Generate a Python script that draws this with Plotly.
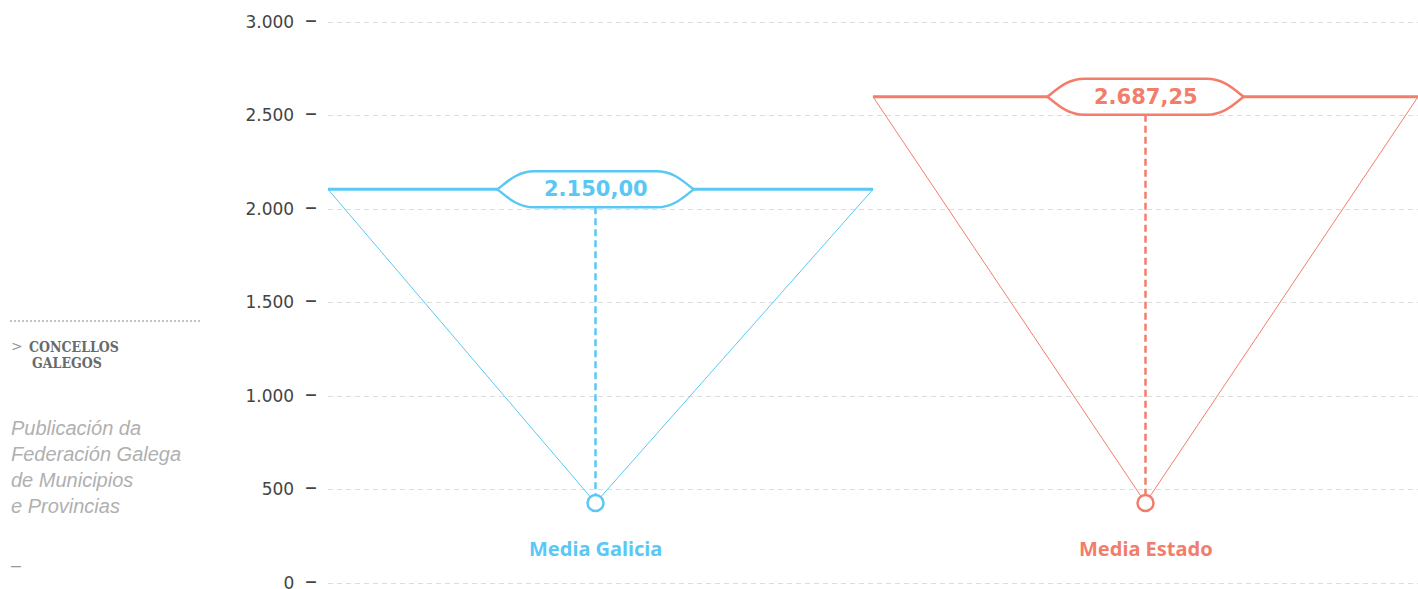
import plotly.graph_objects as go

# ---------------- data ----------------
categories = ["Media Galicia", "Media Estado"]
values = [2150.00, 2687.25]
value_labels = ["2.150,00", "2.687,25"]
bar_levels = [2105, 2600]      # level of the drawn top bar
apex_levels = [428, 428]       # level of the apex circle
colors = ["#5ac8f5", "#f37d6b"]
ytick_vals = [0, 500, 1000, 1500, 2000, 2500, 3000]
ytick_labels = ["0", "500", "1.000", "1.500", "2.000", "2.500", "3.000"]
sidebar_title = ["CONCELLOS", "GALEGOS"]
sidebar_text = ["Publicación da", "Federación Galega", "de Municipios", "e Provincias"]

# ---------------- layout constants ----------------
W, H = 1418, 589
PLOT_L, PLOT_T, PLOT_B = 328, 22, 583      # pixel rows of 3000 and 0
PAD = 3                                    # extra pixels of axis range at each end
X_RANGE = [-0.5, 1.5]
CENTER_SHIFT_PX = [-5, 0]                  # horizontal nudge of the stem/label in pixels
PX_X = (X_RANGE[1] - X_RANGE[0]) / (W - PLOT_L)
PX_Y = 3000 / (PLOT_B - PLOT_T)
Y_RANGE = [0 - PAD * PX_Y, 3000 + PAD * PX_Y]


def px(x):
    return x / W


def py(y):
    return 1 - y / H


def box_path(cx, cy):
    hw, tw, k1, k2 = 98 * PX_X, 61 * PX_X, 88 * PX_X, 78 * PX_X
    hh, h1 = 18 * PX_Y, 8 * PX_Y
    pts = [
        f"M {cx-hw},{cy}",
        f"C {cx-k1},{cy+h1} {cx-k2},{cy+hh} {cx-tw},{cy+hh}",
        f"L {cx+tw},{cy+hh}",
        f"C {cx+k2},{cy+hh} {cx+k1},{cy+h1} {cx+hw},{cy}",
        f"C {cx+k1},{cy-h1} {cx+k2},{cy-hh} {cx+tw},{cy-hh}",
        f"L {cx-tw},{cy-hh}",
        f"C {cx-k2},{cy-hh} {cx-k1},{cy-h1} {cx-hw},{cy}",
        "Z",
    ]
    return " ".join(pts)


fig = go.Figure()
shapes = []
annotations = []

for i, cat in enumerate(categories):
    c = colors[i]
    lvl = bar_levels[i]
    apex = apex_levels[i]
    xc = i + CENTER_SHIFT_PX[i] * PX_X
    # triangle sides
    fig.add_trace(go.Scatter(x=[i - 0.5, xc, i + 0.5], y=[lvl, apex, lvl], mode="lines",
                             line=dict(color=c, width=1), hoverinfo="skip", cliponaxis=False))
    # top bar
    fig.add_trace(go.Scatter(x=[i - 0.5, i + 0.5], y=[lvl, lvl], mode="lines",
                             line=dict(color=c, width=3), hoverinfo="skip", cliponaxis=False))
    # dashed stem
    fig.add_trace(go.Scatter(x=[xc, xc], y=[lvl - 18 * PX_Y, apex + 8 * PX_Y], mode="lines",
                             line=dict(color=c, width=2.5, dash="7px,4px"), hoverinfo="skip"))
    # apex circle
    fig.add_trace(go.Scatter(x=[xc], y=[apex], mode="markers",
                             marker=dict(size=16, color="white", line=dict(color=c, width=2.5)),
                             hoverinfo="skip", cliponaxis=False))
    # value box
    shapes.append(dict(type="path", path=box_path(xc, lvl), xref="x", yref="y",
                       line=dict(color=c, width=2.5), fillcolor="white", layer="above"))
    annotations.append(dict(x=xc, y=lvl, xref="x", yref="y", text=value_labels[i],
                            showarrow=False, font=dict(family="DejaVu Sans", size=21, color=c, weight="bold"),
                            xanchor="center", yanchor="middle"))
    # category label
    annotations.append(dict(x=xc, y=(PLOT_B - 548) * PX_Y, xref="x", yref="y", text=cat,
                            showarrow=False, font=dict(family="Noto Sans", size=20, color=c, weight="bold"),
                            xanchor="center", yanchor="middle"))

# sidebar
shapes.append(dict(type="line", xref="paper", yref="paper", x0=px(10), x1=px(201), y0=py(321), y1=py(321),
                   line=dict(color="#888888", width=1, dash="2px,2px")))
annotations.append(dict(x=px(9), y=py(346), xref="paper", yref="paper", text=">", showarrow=False,
                        xanchor="left", yanchor="middle", font=dict(family="DejaVu Sans", size=14, color="#999999")))
annotations.append(dict(x=px(27), y=py(347), xref="paper", yref="paper", text=sidebar_title[0], showarrow=False,
                        xanchor="left", yanchor="middle",
                        font=dict(family="DejaVu Serif Condensed, DejaVu Serif", size=14, color="#6a6a6a",
                                  weight="bold")))
annotations.append(dict(x=px(30), y=py(363), xref="paper", yref="paper", text=sidebar_title[1], showarrow=False,
                        xanchor="left", yanchor="middle",
                        font=dict(family="DejaVu Serif Condensed, DejaVu Serif", size=14, color="#6a6a6a",
                                  weight="bold")))
for k, line in enumerate(sidebar_text):
    annotations.append(dict(x=px(9), y=py(428 + 26 * k), xref="paper", yref="paper", text=line, showarrow=False,
                            xanchor="left", yanchor="middle",
                            font=dict(family="Liberation Sans", size=20, color="#b0b0b0", style="italic")))
annotations.append(dict(x=px(9), y=py(565), xref="paper", yref="paper", text="–", showarrow=False,
                        xanchor="left", yanchor="middle", font=dict(family="Liberation Sans", size=18, color="#999999")))

fig.update_layout(
    width=W, height=H,
    margin=dict(l=0, r=0, t=0, b=0),
    paper_bgcolor="white", plot_bgcolor="white",
    showlegend=False,
    shapes=shapes, annotations=annotations,
    xaxis=dict(domain=[px(PLOT_L), 1], range=X_RANGE, showgrid=False, zeroline=False,
               showticklabels=False, showline=False, fixedrange=True),
    yaxis=dict(domain=[py(PLOT_B + PAD), py(PLOT_T - PAD)], range=Y_RANGE, tickvals=ytick_vals,
               ticktext=[t + "\u00a0\u00a0<span style='font-size:24px'>\u2013</span>" for t in ytick_labels],
               showgrid=True, gridcolor="#dddddd", gridwidth=1, griddash="5px,4px",
               zeroline=False, showline=False, ticks="", automargin=False,
               ticklabeloverflow="allow",
               tickfont=dict(family="DejaVu Sans", size=17, color="#444444"), ticklabelstandoff=10,
               fixedrange=True),
)

fig.write_html("out.html", config={"displayModeBar": False},
               post_script="document.body.style.margin='0';document.body.style.overflow='hidden';")
